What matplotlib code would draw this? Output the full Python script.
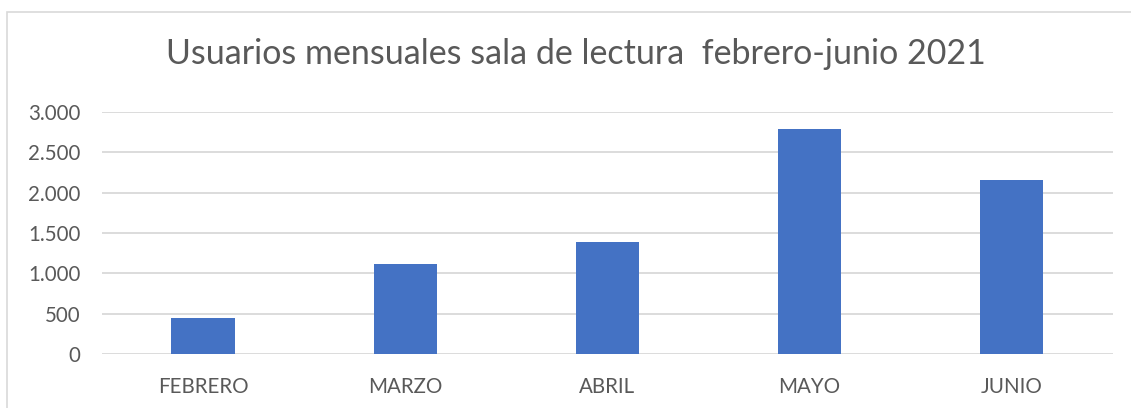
import matplotlib.pyplot as plt
from matplotlib.patches import Rectangle
from matplotlib.ticker import FuncFormatter

# data
meses = ["FEBRERO", "MARZO", "ABRIL", "MAYO", "JUNIO"]
usuarios = [452, 1112, 1386, 2788, 2160]
y_ticks = [0, 500, 1000, 1500, 2000, 2500, 3000]

plt.rcParams['font.family'] = ['Lato', 'DejaVu Sans']

W, H = 1131, 408
fig = plt.figure(figsize=(W / 100, H / 100), dpi=100)
fig.patch.set_facecolor('white')

# outer chart border (light grey, runs off the right/bottom edge)
fig.patches.append(Rectangle((7 / W, -0.05), 1.1, 1 - 12 / H + 0.05,
                             transform=fig.transFigure, fill=False,
                             edgecolor='#D9D9D9', linewidth=1.2))

ax = fig.add_axes([102 / W, 1 - 354.3 / H, (1112.8 - 102) / W, (354.3 - 111.7) / H])

x = list(range(len(meses)))
ax.bar(x, usuarios, width=0.314, color='#4472C4', zorder=3)

ax.set_xlim(-0.5, len(meses) - 0.5)
ax.set_ylim(0, 3000)
ax.set_yticks(y_ticks)
ax.yaxis.set_major_formatter(FuncFormatter(lambda v, p: f"{int(v):,}".replace(",", ".")))
ax.set_xticks(x)
ax.set_xticklabels(meses)

ax.grid(axis='y', color='#D9D9D9', linewidth=1.3, zorder=0)
for s in ax.spines.values():
    s.set_visible(False)
ax.tick_params(axis='both', length=0, labelsize=14.8, labelcolor='#595959')
ax.tick_params(axis='y', pad=15.5)
ax.tick_params(axis='x', pad=16)

fig.text(576 / W, 1 - 54 / H, "Usuarios mensuales sala de lectura  febrero-junio 2021",
         ha='center', va='center', fontsize=24.5, color='#595959')

fig.savefig('out.png', dpi=100)
